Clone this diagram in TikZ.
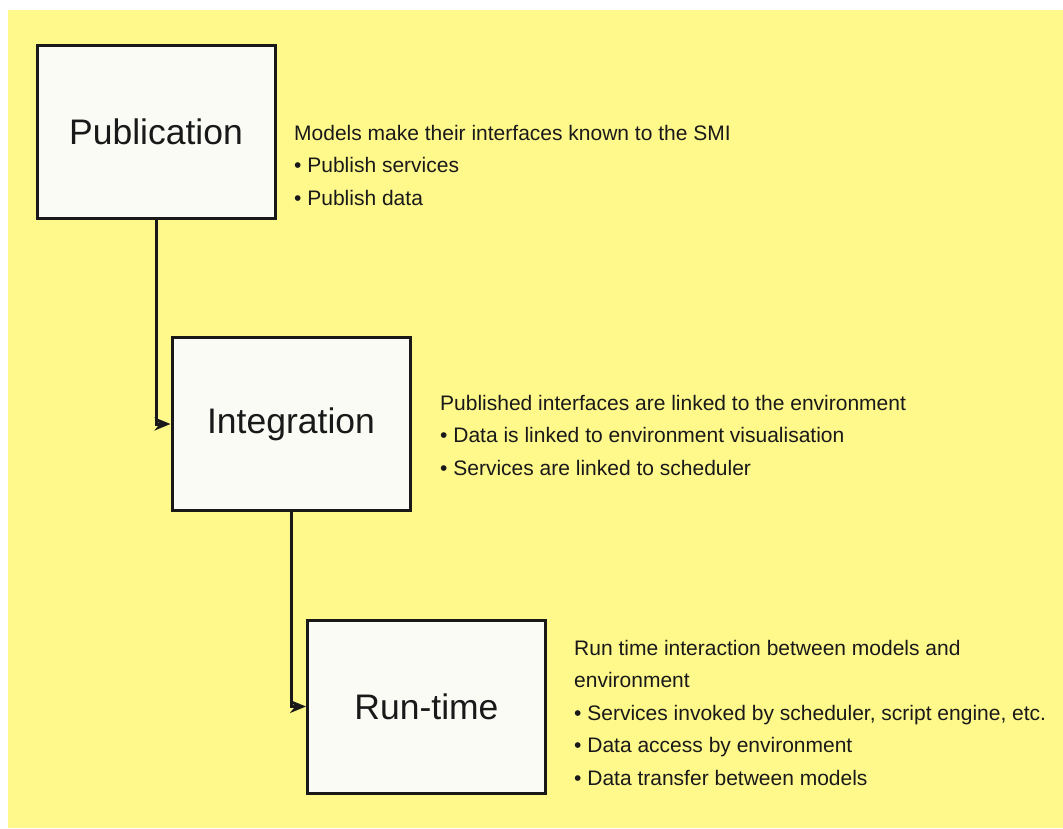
\documentclass[tikz,border=0pt]{standalone}
\usepackage{fontspec}
\setmainfont{Liberation Sans}
\usepackage{tikz}
\usetikzlibrary{arrows.meta}
\usepackage{xcolor}
\definecolor{paper}{RGB}{255,249,140}
\definecolor{boxfill}{RGB}{251,251,246}
\definecolor{ink}{RGB}{25,25,25}

\begin{document}
\begin{tikzpicture}[x=1pt,y=-1pt,
	stage/.style={draw=ink, line width=3pt, fill=boxfill, minimum width=238pt, minimum height=173pt, inner sep=0pt, font=\fontsize{35.5}{40}\selectfont, text=ink},
	desc/.style={anchor=base west, align=left, inner sep=0pt, font=\fontsize{21}{32.5}\selectfont, text=ink},
	link/.style={draw=ink, line width=3pt, -{Stealth[length=16pt,width=13pt]}}]
\useasboundingbox (0,0) rectangle (1063,828);
\fill[white] (0,0) rectangle (1063,828);
\fill[paper] (8,10) rectangle (1063,828);

				\node[stage] (pub) at (156,132) {Publication};
				\node[stage] (int) at (291,424) {Integration};
				\node[stage] (run) at (426.5,706.5) {Run-time};

				% anchored at the baseline of the last line
				\node[desc] (pubtxt) at (294,205) {Models make their interfaces known to the SMI\\ • Publish services\\ • Publish data};
				\node[desc] (inttxt) at (440,475) {Published interfaces are linked to the environment\\ • Data is linked to environment visualisation\\ • Services are linked to scheduler};
				\node[desc] (runtxt) at (574,785) {Run time interaction between models and\\ environment\\ • Services invoked by scheduler, script engine, etc.\\ • Data access by environment\\ • Data transfer between models};

\draw[link] (pub.south) |- (int.west);
\draw[link] (int.south) |- (run.west);
		\end{tikzpicture}
\end{document}
